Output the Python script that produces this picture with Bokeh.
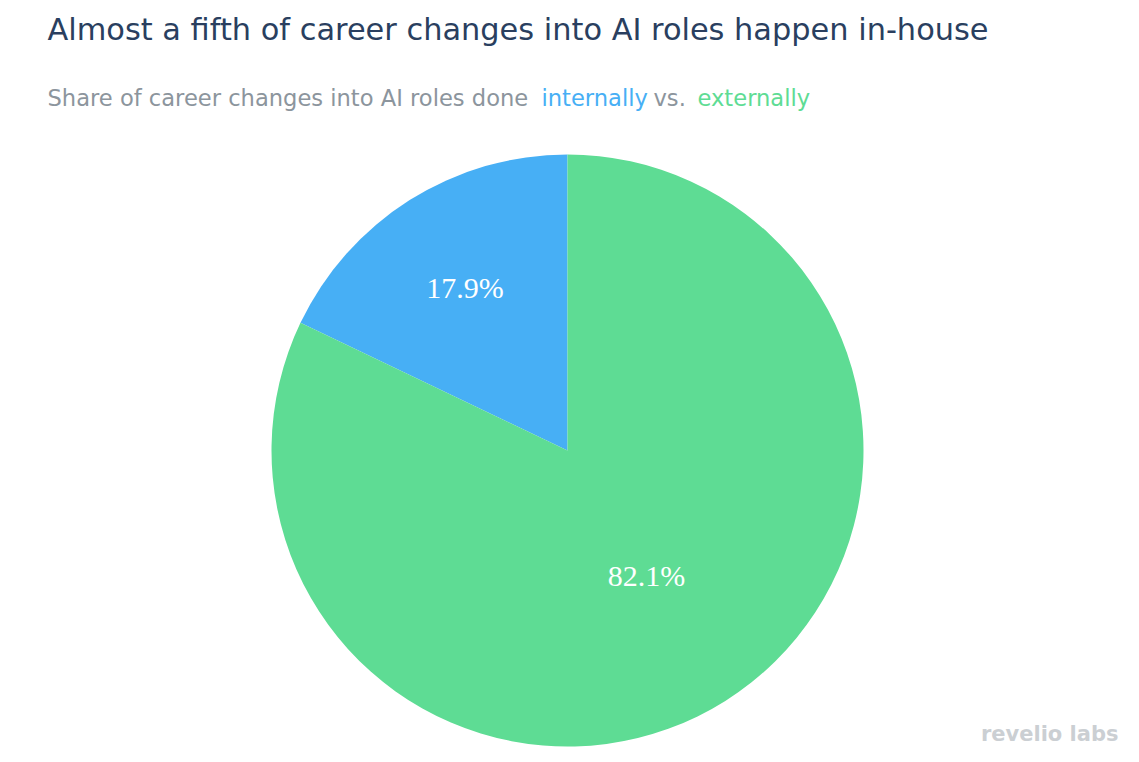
import numpy as np
from bokeh.plotting import figure
from bokeh.models import Range1d, ColumnDataSource
from bokeh.core.properties import value
from bokeh.embed import file_html
from bokeh.resources import INLINE

# Data
categories = ["internally", "externally"]
shares = [17.9, 82.1]
colors = ["#47aff5", "#5edc94"]
label_texts = ["17.9%", "82.1%"]

title_text = "Almost a fifth of career changes into AI roles happen in-house"
subtitle_parts = ["Share of career changes into AI roles done", "internally", "vs.", "externally"]

W, H = 1139, 762
p = figure(width=W, height=H, x_range=Range1d(0, W), y_range=Range1d(0, H),
           output_backend="svg", toolbar_location=None, min_border=0)
p.axis.visible = False
p.grid.visible = False
p.outline_line_color = None
p.background_fill_color = "white"

cx, cy, r = 567, H - 450, 296
vals = np.array(shares)
fr = vals / vals.sum()
ends = np.cumsum(fr) * 2 * np.pi
starts = np.concatenate([[0], ends[:-1]])
start_a = np.pi / 2 + starts
end_a = np.pi / 2 + ends
src = ColumnDataSource(dict(start=start_a, end=end_a, color=colors, cat=categories))
p.wedge(x=cx, y=cy, radius=r, radius_units="screen", start_angle="start", end_angle="end",
        fill_color="color", line_color="white", line_width=0, source=src)

mid = (start_a + end_a) / 2
lr = np.array([0.65, 0.50]) * r
lx = cx + lr * np.cos(mid)
ly = cy + lr * np.sin(mid)
p.text(x=lx, y=ly, text=label_texts, text_color="white", text_font=value("Liberation Serif"),
       text_font_size="30px", text_align="center", text_baseline="middle")

p.text(x=[47], y=[H - 29], text=[title_text], text_color="#2a3f5f",
       text_font=value("DejaVu Sans"), text_font_size="30.4px", text_align="left", text_baseline="middle")

sub_x = [47, 541, 653, 697]
sub_colors = ["#8c959d", "#47aff5", "#8c959d", "#5edc94"]
for sx, st, sc in zip(sub_x, subtitle_parts, sub_colors):
    p.text(x=[sx], y=[H - 97], text=[st], text_color=sc, text_font=value("DejaVu Sans"),
           text_font_size="22.6px", text_align="left", text_baseline="middle")

p.text(x=[1118], y=[H - 733], text=["revelio labs"], text_color="#cbcfd3",
       text_font=value("DejaVu Sans"), text_font_size="21px", text_font_style="bold",
       text_align="right", text_baseline="middle")

open("out.html", "w").write(file_html(p, INLINE))
